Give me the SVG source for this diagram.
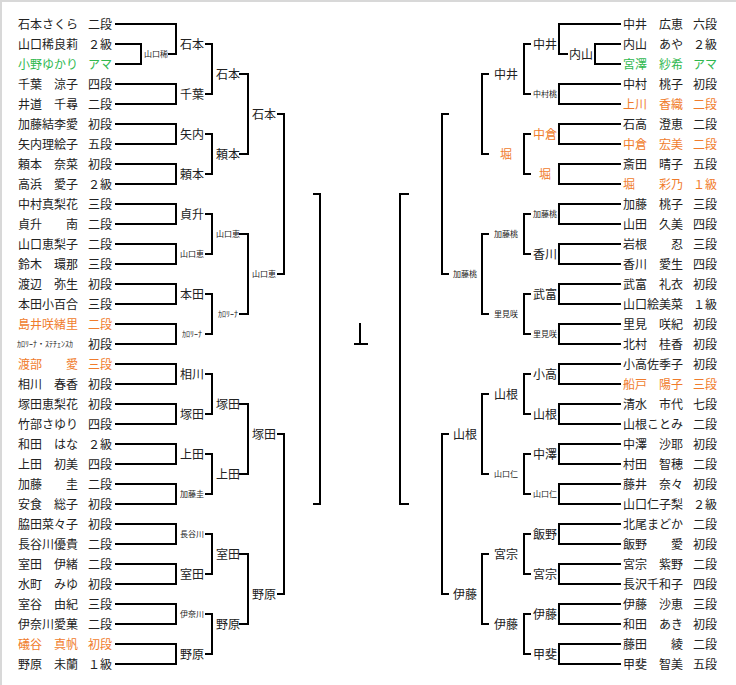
<svg xmlns="http://www.w3.org/2000/svg" width="736" height="685" viewBox="0 0 736 685">
<style>
text{font-family:"Noto Sans CJK JP","Noto Sans CJK SC",sans-serif;fill:#222}
.n{font-size:12px}
.l{font-size:12px;text-anchor:middle}
.s{font-size:8px;text-anchor:middle}
.o{fill:#f07c2c}
.g{fill:#2fb84f}
.c{fill:none;stroke:#000;stroke-width:2;stroke-linecap:square}
</style>
<rect width="736" height="685" fill="#fff"/>
<path d="M0 1H736M1 0V685" stroke="#d8d8d8" stroke-width="2"/>
<g id="connectors" class="c">
<path d="M116 24H176M116 44H141M116 64H141M141 44V64M169 54H176M176 24V54
M116 84H176M116 104H176M176 84V104M116 124H176M116 144H176M176 124V144
M116 164H176M116 184H176M176 164V184M116 204H176M116 224H176M176 204V224
M116 244H176M116 264H176M176 244V264M116 284H176M116 304H176M176 284V304
M116 324H176M116 344H176M176 324V344M116 364H176M116 384H176M176 364V384
M116 404H176M116 424H176M176 404V424M116 444H176M116 464H176M176 444V464
M116 484H176M116 504H176M176 484V504M116 524H176M116 544H176M176 524V544
M116 564H176M116 584H176M176 564V584M116 604H176M116 624H176M176 604V624
M116 644H176M116 664H176M176 644V664"/>
<path d="M206 44H212M206 94H212M212 44V94M206 134H212M206 174H212M212 134V174
M206 214H212M206 254H212M212 214V254M206 294H212M206 334H212M212 294V334
M206 374H212M206 414H212M212 374V414M206 454H212M206 494H212M212 454V494
M206 534H212M206 574H212M212 534V574M206 614H212M206 654H212M212 614V654"/>
<path d="M240 74H248M240 154H248M248 74V154M240 234H248M240 314H248M248 234V314
M240 404H248M240 474H248M248 404V474M240 554H248M240 624H248M248 554V624"/>
<path d="M278 114H284M278 274H284M284 114V274M278 434H284M278 594H284M284 434V594"/>
<path d="M314 194H320M314 504H320M320 194V504"/>
<path d="M360 324V344M355 344H367"/>
<path d="M400 194V504M400 194H408M400 504H408"/>
<path d="M442 114V274M442 114H448M442 274H448M442 434V594M442 434H448M442 594H448"/>
<path d="M482 74V154M482 74H488M482 154H488M482 234V314M482 234H488M482 314H488
M482 394V474M482 394H488M482 474H488M482 554V624M482 554H488M482 624H488"/>
<path d="M524 44V94M524 44H530M524 94H530M524 134V174M524 134H530M524 174H530
M524 214V254M524 214H530M524 254H530M524 294V334M524 294H530M524 334H530
M524 374V414M524 374H530M524 414H530M524 454V494M524 454H530M524 494H530
M524 534V574M524 534H530M524 574H530M524 614V654M524 614H530M524 654H530"/>
<path d="M559 24H620M595 44H620M595 64H620M595 44V64M559 54H567M559 24V54
M559 84H620M559 104H620M559 84V104M559 124H620M559 144H620M559 124V144
M559 164H620M559 184H620M559 164V184M559 204H620M559 224H620M559 204V224
M559 244H620M559 264H620M559 244V264M559 284H620M559 304H620M559 284V304
M559 324H620M559 344H620M559 324V344M559 364H620M559 384H620M559 364V384
M559 404H620M559 424H620M559 404V424M559 444H620M559 464H620M559 444V464
M559 484H620M559 504H620M559 484V504M559 524H620M559 544H620M559 524V544
M559 564H620M559 584H620M559 564V584M559 604H620M559 624H620M559 604V624
M559 644H620M559 664H620M559 644V664"/>
</g>
<g id="left-players" class="n">
<g id="p-l00"><text x="18" y="28.5">石本さくら</text><text x="88" y="28.5">二段</text></g>
<g id="p-l01"><text x="18" y="48.5">山口稀良莉</text><text x="88" y="48.5">２級</text></g>
<g id="p-l02"><text x="18" y="68.5" class="g">小野ゆかり</text><text x="88" y="68.5" class="g">アマ</text></g>
<g id="p-l03"><text x="18" y="88.5">千葉　涼子</text><text x="88" y="88.5">四段</text></g>
<g id="p-l04"><text x="18" y="108.5">井道　千尋</text><text x="88" y="108.5">二段</text></g>
<g id="p-l05"><text x="18" y="128.5">加藤結李愛</text><text x="88" y="128.5">初段</text></g>
<g id="p-l06"><text x="18" y="148.5">矢内理絵子</text><text x="88" y="148.5">五段</text></g>
<g id="p-l07"><text x="18" y="168.5">頼本　奈菜</text><text x="88" y="168.5">初段</text></g>
<g id="p-l08"><text x="18" y="188.5">高浜　愛子</text><text x="88" y="188.5">２級</text></g>
<g id="p-l09"><text x="18" y="208.5">中村真梨花</text><text x="88" y="208.5">三段</text></g>
<g id="p-l10"><text x="18" y="228.5">貞升　　南</text><text x="88" y="228.5">二段</text></g>
<g id="p-l11"><text x="18" y="248.5">山口恵梨子</text><text x="88" y="248.5">二段</text></g>
<g id="p-l12"><text x="18" y="268.5">鈴木　環那</text><text x="88" y="268.5">三段</text></g>
<g id="p-l13"><text x="18" y="288.5">渡辺　弥生</text><text x="88" y="288.5">初段</text></g>
<g id="p-l14"><text x="18" y="308.5">本田小百合</text><text x="88" y="308.5">三段</text></g>
<g id="p-l15"><text x="18" y="328.5" class="o">島井咲緒里</text><text x="88" y="328.5" class="o">二段</text></g>
<g id="p-l16"><text x="17" y="347" font-size="8" textLength="56" lengthAdjust="spacingAndGlyphs">ｶﾛﾘｰﾅ・ｽﾃﾁｪﾝｽｶ</text><text x="88" y="348.5">初段</text></g>
<g id="p-l17"><text x="18" y="368.5" class="o">渡部　　愛</text><text x="88" y="368.5" class="o">三段</text></g>
<g id="p-l18"><text x="18" y="388.5">相川　春香</text><text x="88" y="388.5">初段</text></g>
<g id="p-l19"><text x="18" y="408.5">塚田恵梨花</text><text x="88" y="408.5">初段</text></g>
<g id="p-l20"><text x="18" y="428.5">竹部さゆり</text><text x="88" y="428.5">四段</text></g>
<g id="p-l21"><text x="18" y="448.5">和田　はな</text><text x="88" y="448.5">２級</text></g>
<g id="p-l22"><text x="18" y="468.5">上田　初美</text><text x="88" y="468.5">四段</text></g>
<g id="p-l23"><text x="18" y="488.5">加藤　　圭</text><text x="88" y="488.5">二段</text></g>
<g id="p-l24"><text x="18" y="508.5">安食　総子</text><text x="88" y="508.5">初段</text></g>
<g id="p-l25"><text x="18" y="528.5">脇田菜々子</text><text x="88" y="528.5">初段</text></g>
<g id="p-l26"><text x="18" y="548.5">長谷川優貴</text><text x="88" y="548.5">二段</text></g>
<g id="p-l27"><text x="18" y="568.5">室田　伊緒</text><text x="88" y="568.5">二段</text></g>
<g id="p-l28"><text x="18" y="588.5">水町　みゆ</text><text x="88" y="588.5">初段</text></g>
<g id="p-l29"><text x="18" y="608.5">室谷　由紀</text><text x="88" y="608.5">三段</text></g>
<g id="p-l30"><text x="18" y="628.5">伊奈川愛菓</text><text x="88" y="628.5">二段</text></g>
<g id="p-l31"><text x="18" y="648.5" class="o">礒谷　真帆</text><text x="88" y="648.5" class="o">初段</text></g>
<g id="p-l32"><text x="18" y="668.5">野原　未蘭</text><text x="88" y="668.5">１級</text></g>
</g>
<g id="right-players" class="n">
<g id="p-r00"><text x="623" y="28.5">中井　広恵</text><text x="693" y="28.5">六段</text></g>
<g id="p-r01"><text x="623" y="48.5">内山　あや</text><text x="693" y="48.5">２級</text></g>
<g id="p-r02"><text x="623" y="68.5" class="g">宮澤　紗希</text><text x="693" y="68.5" class="g">アマ</text></g>
<g id="p-r03"><text x="623" y="88.5">中村　桃子</text><text x="693" y="88.5">初段</text></g>
<g id="p-r04"><text x="623" y="108.5" class="o">上川　香織</text><text x="693" y="108.5" class="o">二段</text></g>
<g id="p-r05"><text x="623" y="128.5">石高　澄恵</text><text x="693" y="128.5">二段</text></g>
<g id="p-r06"><text x="623" y="148.5" class="o">中倉　宏美</text><text x="693" y="148.5" class="o">二段</text></g>
<g id="p-r07"><text x="623" y="168.5">斎田　晴子</text><text x="693" y="168.5">五段</text></g>
<g id="p-r08"><text x="623" y="188.5" class="o">堀　　彩乃</text><text x="693" y="188.5" class="o">１級</text></g>
<g id="p-r09"><text x="623" y="208.5">加藤　桃子</text><text x="693" y="208.5">三段</text></g>
<g id="p-r10"><text x="623" y="228.5">山田　久美</text><text x="693" y="228.5">四段</text></g>
<g id="p-r11"><text x="623" y="248.5">岩根　　忍</text><text x="693" y="248.5">三段</text></g>
<g id="p-r12"><text x="623" y="268.5">香川　愛生</text><text x="693" y="268.5">四段</text></g>
<g id="p-r13"><text x="623" y="288.5">武富　礼衣</text><text x="693" y="288.5">初段</text></g>
<g id="p-r14"><text x="623" y="308.5">山口絵美菜</text><text x="693" y="308.5">１級</text></g>
<g id="p-r15"><text x="623" y="328.5">里見　咲紀</text><text x="693" y="328.5">初段</text></g>
<g id="p-r16"><text x="623" y="348.5">北村　桂香</text><text x="693" y="348.5">初段</text></g>
<g id="p-r17"><text x="623" y="368.5">小高佐季子</text><text x="693" y="368.5">初段</text></g>
<g id="p-r18"><text x="623" y="388.5" class="o">船戸　陽子</text><text x="693" y="388.5" class="o">三段</text></g>
<g id="p-r19"><text x="623" y="408.5">清水　市代</text><text x="693" y="408.5">七段</text></g>
<g id="p-r20"><text x="623" y="428.5">山根ことみ</text><text x="693" y="428.5">二段</text></g>
<g id="p-r21"><text x="623" y="448.5">中澤　沙耶</text><text x="693" y="448.5">初段</text></g>
<g id="p-r22"><text x="623" y="468.5">村田　智穂</text><text x="693" y="468.5">二段</text></g>
<g id="p-r23"><text x="623" y="488.5">藤井　奈々</text><text x="693" y="488.5">初段</text></g>
<g id="p-r24"><text x="623" y="508.5">山口仁子梨</text><text x="693" y="508.5">２級</text></g>
<g id="p-r25"><text x="623" y="528.5">北尾まどか</text><text x="693" y="528.5">二段</text></g>
<g id="p-r26"><text x="623" y="548.5">飯野　　愛</text><text x="693" y="548.5">初段</text></g>
<g id="p-r27"><text x="623" y="568.5">宮宗　紫野</text><text x="693" y="568.5">二段</text></g>
<g id="p-r28"><text x="623" y="588.5">長沢千和子</text><text x="693" y="588.5">四段</text></g>
<g id="p-r29"><text x="623" y="608.5">伊藤　沙恵</text><text x="693" y="608.5">三段</text></g>
<g id="p-r30"><text x="623" y="628.5">和田　あき</text><text x="693" y="628.5">初段</text></g>
<g id="p-r31"><text x="623" y="648.5">藤田　　綾</text><text x="693" y="648.5">二段</text></g>
<g id="p-r32"><text x="623" y="668.5">甲斐　智美</text><text x="693" y="668.5">五段</text></g>
</g>
<g id="left-winners">
<g id="w-l1-1"><text class="s" x="156" y="57">山口稀</text></g>
<g id="w-l2-1"><text class="l" x="192" y="48.5">石本</text></g>
<g id="w-l2-2"><text class="l" x="192" y="98.5">千葉</text></g>
<g id="w-l2-3"><text class="l" x="192" y="138.5">矢内</text></g>
<g id="w-l2-4"><text class="l" x="192" y="178.5">頼本</text></g>
<g id="w-l2-5"><text class="l" x="192" y="218.5">貞升</text></g>
<g id="w-l2-6"><text class="s" x="192" y="257">山口恵</text></g>
<g id="w-l2-7"><text class="l" x="192" y="298.5">本田</text></g>
<g id="w-l2-8"><text class="s" x="192" y="337">ｶﾛﾘｰﾅ</text></g>
<g id="w-l2-9"><text class="l" x="192" y="378.5">相川</text></g>
<g id="w-l2-10"><text class="l" x="192" y="418.5">塚田</text></g>
<g id="w-l2-11"><text class="l" x="192" y="458.5">上田</text></g>
<g id="w-l2-12"><text class="s" x="192" y="497">加藤圭</text></g>
<g id="w-l2-13"><text class="s" x="192" y="537">長谷川</text></g>
<g id="w-l2-14"><text class="l" x="192" y="578.5">室田</text></g>
<g id="w-l2-15"><text class="s" x="192" y="617">伊奈川</text></g>
<g id="w-l2-16"><text class="l" x="192" y="658.5">野原</text></g>
<g id="w-l3-1"><text class="l" x="228" y="78.5">石本</text></g>
<g id="w-l3-2"><text class="l" x="228" y="158.5">頼本</text></g>
<g id="w-l3-3"><text class="s" x="228" y="237">山口恵</text></g>
<g id="w-l3-4"><text class="s" x="228" y="317">ｶﾛﾘｰﾅ</text></g>
<g id="w-l3-5"><text class="l" x="228" y="408.5">塚田</text></g>
<g id="w-l3-6"><text class="l" x="228" y="478.5">上田</text></g>
<g id="w-l3-7"><text class="l" x="228" y="558.5">室田</text></g>
<g id="w-l3-8"><text class="l" x="228" y="628.5">野原</text></g>
<g id="w-l4-1"><text class="l" x="264" y="118.5">石本</text></g>
<g id="w-l4-2"><text class="s" x="264" y="277">山口恵</text></g>
<g id="w-l4-3"><text class="l" x="264" y="438.5">塚田</text></g>
<g id="w-l4-4"><text class="l" x="264" y="598.5">野原</text></g>
</g>
<g id="right-winners">
<g id="w-r1-1"><text class="l" x="581" y="58.5">内山</text></g>
<g id="w-r2-1"><text class="l" x="545" y="48.5">中井</text></g>
<g id="w-r2-2"><text class="s" x="545" y="97">中村桃</text></g>
<g id="w-r2-3"><text class="l o" x="545" y="138.5">中倉</text></g>
<g id="w-r2-4"><text class="l o" x="545" y="178.5">堀</text></g>
<g id="w-r2-5"><text class="s" x="545" y="217">加藤桃</text></g>
<g id="w-r2-6"><text class="l" x="545" y="258.5">香川</text></g>
<g id="w-r2-7"><text class="l" x="545" y="298.5">武富</text></g>
<g id="w-r2-8"><text class="s" x="545" y="337">里見咲</text></g>
<g id="w-r2-9"><text class="l" x="545" y="378.5">小高</text></g>
<g id="w-r2-10"><text class="l" x="545" y="418.5">山根</text></g>
<g id="w-r2-11"><text class="l" x="545" y="458.5">中澤</text></g>
<g id="w-r2-12"><text class="s" x="545" y="497">山口仁</text></g>
<g id="w-r2-13"><text class="l" x="545" y="538.5">飯野</text></g>
<g id="w-r2-14"><text class="l" x="545" y="578.5">宮宗</text></g>
<g id="w-r2-15"><text class="l" x="545" y="618.5">伊藤</text></g>
<g id="w-r2-16"><text class="l" x="545" y="658.5">甲斐</text></g>
<g id="w-r3-1"><text class="l" x="506" y="78.5">中井</text></g>
<g id="w-r3-2"><text class="l o" x="506" y="158.5">堀</text></g>
<g id="w-r3-3"><text class="s" x="506" y="237">加藤桃</text></g>
<g id="w-r3-4"><text class="s" x="506" y="317">里見咲</text></g>
<g id="w-r3-5"><text class="l" x="506" y="398.5">山根</text></g>
<g id="w-r3-6"><text class="s" x="506" y="477">山口仁</text></g>
<g id="w-r3-7"><text class="l" x="506" y="558.5">宮宗</text></g>
<g id="w-r3-8"><text class="l" x="506" y="628.5">伊藤</text></g>
<g id="w-r4-2"><text class="s" x="465" y="277">加藤桃</text></g>
<g id="w-r4-3"><text class="l" x="465" y="438.5">山根</text></g>
<g id="w-r4-4"><text class="l" x="465" y="598.5">伊藤</text></g>
</g>
</svg>
